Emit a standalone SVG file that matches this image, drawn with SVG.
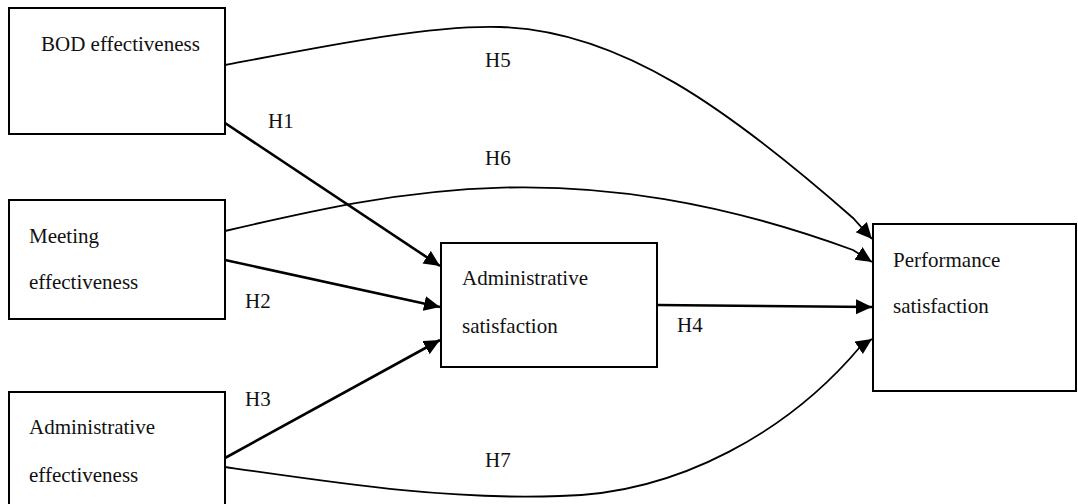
<svg xmlns="http://www.w3.org/2000/svg" width="1078" height="504" viewBox="0 0 1078 504">
<style>
.box{fill:#fff;stroke:#000;stroke-width:2}
.t{font-family:"Liberation Serif","Times New Roman",serif;font-size:21px;fill:#111}
.thick{fill:none;stroke:#000;stroke-width:2.6;marker-end:url(#ah)}
.thin{fill:none;stroke:#000;stroke-width:1.8;marker-end:url(#ah)}
</style>
<defs>
<marker id="ah" markerUnits="userSpaceOnUse" markerWidth="18" markerHeight="16" refX="16" refY="7.5" orient="auto">
<path d="M0,0 L16,7.5 L0,15 z" fill="#000"/>
</marker>
</defs>
<rect width="1078" height="504" fill="#fff"/>
<g id="connectors">
<path class="thin" d="M225,65 C330,45 430,25 500,27 C620,30 730,110 853,218 L872,239"/>
<path class="thin" d="M225,231 C400,190 580,150 853,250 L872,262"/>
<path class="thin" d="M225,467 C350,485 450,500 560,496 C680,494 790,430 860,347 L872,339"/>
<path class="thick" d="M225,123 L440,266"/>
<path class="thick" d="M225,260 L440,307"/>
<path class="thick" d="M225,458 L440,340"/>
<path class="thick" d="M657,305 L872,307"/>
</g>
<g id="labels">
<text class="t" x="268" y="128">H1</text>
<text class="t" x="245" y="308">H2</text>
<text class="t" x="245" y="406">H3</text>
<text class="t" x="677" y="332">H4</text>
<text class="t" x="485" y="67">H5</text>
<text class="t" x="485" y="165">H6</text>
<text class="t" x="485" y="467">H7</text>
</g>
<g id="bod">
<rect class="box" x="9" y="8" width="216" height="126"/>
<text class="t" x="41" y="51">BOD effectiveness</text>
</g>
<g id="meeting">
<rect class="box" x="9" y="200" width="216" height="119"/>
<text class="t" x="29" y="243">Meeting</text>
<text class="t" x="29" y="289">effectiveness</text>
</g>
<g id="admin-eff">
<rect class="box" x="9" y="392" width="216" height="120"/>
<text class="t" x="29" y="434">Administrative</text>
<text class="t" x="29" y="482">effectiveness</text>
</g>
<g id="admin-sat">
<rect class="box" x="441" y="243" width="216" height="124"/>
<text class="t" x="462" y="285">Administrative</text>
<text class="t" x="462" y="333">satisfaction</text>
</g>
<g id="perf-sat">
<rect class="box" x="873" y="224" width="203" height="167"/>
<text class="t" x="893" y="267">Performance</text>
<text class="t" x="893" y="313">satisfaction</text>
</g>
</svg>
